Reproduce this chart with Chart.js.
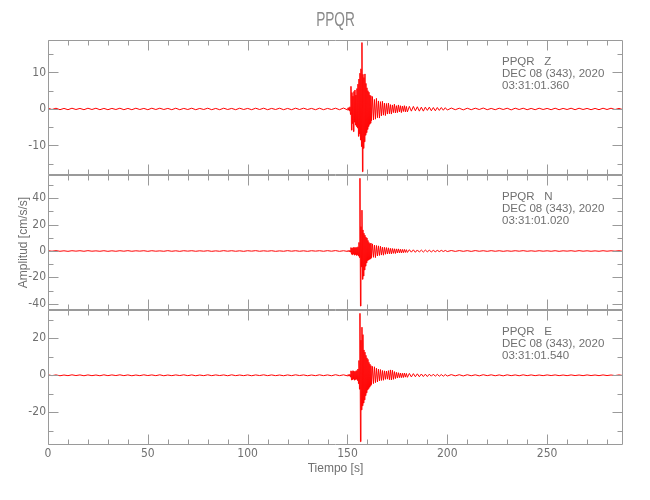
<!DOCTYPE html>
<html lang="es">
<head>
    <meta charset="UTF-8">
    <title>PPQR</title>
    <script src="https://cdn.jsdelivr.net/npm/chart.js"></script>
    <style>
        body {
            margin: 0;
            background-color: white;
        }
        canvas {
            display: block;
        }
    </style>
</head>
<body>
    <canvas id="seisChart" width="650" height="500"></canvas>

    <script>
        // sample times [s] (dense around the event, sparse in the quiet parts)
        var time = [
            0,2,4,6,8,10,12,14,16,18,20,22,24,26,28,30,32,34,36,38,
            40,42,44,46,48,50,52,54,56,58,60,62,64,66,68,70,72,74,76,78,
            80,82,84,86,88,90,92,94,96,98,100,102,104,106,108,110,112,114,116,118,
            120,122,124,126,128,130,132,134,136,138,140,142,144,146,148,150,
            150.25,150.5,150.75,151,151.25,151.5,151.75,152,152.25,152.5,152.75,153,
            153.25,153.5,153.75,154,154.25,154.5,154.75,155,155.25,155.5,155.75,156,
            156.25,156.5,156.75,157,157.25,157.5,157.75,158,158.25,158.5,158.75,159,
            159.25,159.5,159.75,160,160.25,160.5,160.75,161,161.25,161.5,161.75,162,
            162.5,163,163.5,164,164.5,165,165.5,166,166.5,167,167.5,168,
            168.5,169,169.5,170,170.5,171,171.5,172,172.5,173,173.5,174,
            174.5,175,175.5,176,176.5,177,177.5,178,178.5,179,179.5,180,
            181,182,183,184,185,186,187,188,189,190,191,192,193,194,195,196,197,198,199,200,
            202,204,206,208,210,212,214,216,218,220,222,224,226,228,230,232,234,236,238,240,242,244,
            246,248,250,252,254,256,258,260,262,264,266,268,270,272,274,276,278,280,282,284,286,288
        ];

        // Z component [cm/s/s]
        var ampZ = [
            0.2,-0.15,0.2,-0.2,0.15,-0.2,0.2,-0.15,0.15,-0.2,0.2,-0.15,0.2,-0.2,0.15,-0.2,0.15,-0.15,0.2,-0.2,
            0.15,-0.2,0.2,-0.15,0.15,-0.2,0.2,-0.15,0.2,-0.15,0.15,-0.2,0.2,-0.2,0.15,-0.15,0.2,-0.2,0.15,-0.15,
            0.2,-0.2,0.15,-0.2,0.2,-0.15,0.15,-0.2,0.2,-0.15,0.15,-0.2,0.2,-0.15,0.2,-0.2,0.15,-0.15,0.2,-0.2,
            0.15,-0.2,0.2,-0.15,0.2,-0.15,0.15,-0.2,0.2,-0.2,0.15,-0.15,0.2,-0.2,0.25,-0.25,
            0.3,-0.3,0.4,-0.5,0.6,-1.5,6.2,-5.8,4.5,-4.0,3.5,-6.2,
            4.8,-3.6,5.2,-4.4,3.8,-4.8,5.6,-5.2,6.8,-7.5,8.2,-6.8,
            9.8,-8.5,11.0,-10.3,18.2,-17.2,9.5,-10.8,8.6,-9.0,9.6,-7.2,
            7.0,-6.5,5.8,-5.6,5.0,-4.8,4.6,-4.2,3.8,-3.9,3.6,-3.2,
            3.4,-3.0,2.6,-2.8,2.9,-2.4,2.2,-2.5,2.0,-1.9,2.1,-1.7,
            1.6,-1.8,1.5,-1.4,1.6,-1.3,1.2,-1.4,1.1,-1.0,1.3,-1.1,
            0.9,-1.0,1.1,-0.8,0.9,-1.0,0.8,-0.7,0.9,-0.8,0.7,-0.8,
            0.7,-0.6,0.7,-0.5,0.6,-0.6,0.5,-0.6,0.5,-0.4,0.5,-0.5,0.4,-0.5,0.4,-0.4,0.4,-0.35,0.35,-0.3,
            0.25,-0.2,0.2,-0.25,0.2,-0.2,0.2,-0.15,0.25,-0.2,0.15,-0.2,0.2,-0.15,0.2,-0.25,0.2,-0.15,0.2,-0.2,0.15,-0.2,
            0.2,-0.15,0.15,-0.2,0.2,-0.2,0.15,-0.15,0.2,-0.2,0.2,-0.15,0.15,-0.2,0.15,-0.2,0.2,-0.15,0.2,-0.15,0.15,-0.2
        ];

        // N component [cm/s/s]
        var ampN = [
            0.2,-0.15,0.25,-0.2,0.15,-0.25,0.2,-0.1,0.2,-0.2,0.25,-0.15,0.1,-0.2,0.2,-0.25,0.15,-0.2,0.2,-0.15,
            0.25,-0.2,0.15,-0.1,0.2,-0.25,0.2,-0.15,0.1,-0.2,0.25,-0.2,0.15,-0.25,0.2,-0.1,0.2,-0.2,0.15,-0.15,
            0.2,-0.25,0.1,-0.2,0.25,-0.15,0.2,-0.2,0.15,-0.25,0.2,-0.1,0.25,-0.2,0.15,-0.15,0.2,-0.25,0.1,-0.2,
            0.25,-0.15,0.2,-0.2,0.15,-0.25,0.2,-0.1,0.2,-0.2,0.25,-0.15,0.3,-0.25,0.2,-0.3,
            0.3,-0.2,0.3,-0.4,0.5,-0.8,2.6,-2.4,2.2,-2.8,2.5,-2.2,
            2.9,-3.1,2.4,-2.6,2.8,-3.3,2.6,-2.9,3.2,-3.8,6.5,-5.0,
            55.2,-41.8,18.5,-12.0,31.0,-21.5,16.0,-19.0,13.5,-14.4,12.0,-11.5,
            10.5,-9.0,9.9,-7.2,8.0,-6.8,6.5,-6.2,5.6,-5.9,6.0,-5.1,
            5.4,-4.8,4.5,-5.0,4.2,-3.8,3.9,-3.4,3.6,-3.1,2.9,-3.2,
            2.8,-2.5,2.6,-2.3,2.4,-2.1,2.0,-2.2,1.9,-1.8,1.7,-1.9,
            1.6,-1.5,1.6,-1.4,1.3,-1.5,1.2,-1.3,1.2,-1.1,1.0,-1.1,
            1.0,-0.9,0.9,-1.0,0.8,-0.8,0.7,-0.8,0.7,-0.6,0.6,-0.7,0.5,-0.6,0.5,-0.5,0.5,-0.4,0.4,-0.4,
            0.35,-0.3,0.3,-0.25,0.25,-0.3,0.3,-0.2,0.2,-0.25,0.25,-0.2,0.2,-0.25,0.15,-0.2,0.2,-0.15,0.25,-0.2,0.15,-0.2,
            0.2,-0.15,0.15,-0.2,0.2,-0.25,0.15,-0.1,0.2,-0.2,0.25,-0.15,0.15,-0.2,0.1,-0.2,0.2,-0.15,0.15,-0.1,0.2,-0.15
        ];

        // E component [cm/s/s]
        var ampE = [
            0.25,-0.2,0.2,-0.25,0.15,-0.2,0.25,-0.15,0.2,-0.25,0.2,-0.2,0.15,-0.25,0.25,-0.2,0.2,-0.15,0.25,-0.2,
            0.2,-0.25,0.15,-0.2,0.25,-0.15,0.2,-0.2,0.25,-0.25,0.15,-0.2,0.2,-0.15,0.25,-0.2,0.2,-0.25,0.15,-0.2,
            0.25,-0.2,0.2,-0.15,0.2,-0.25,0.25,-0.2,0.15,-0.2,0.2,-0.25,0.2,-0.15,0.25,-0.2,0.2,-0.2,0.15,-0.25,
            0.2,-0.2,0.25,-0.15,0.2,-0.25,0.15,-0.2,0.25,-0.2,0.2,-0.25,0.3,-0.2,0.25,-0.3,
            0.3,-0.3,0.4,-0.3,0.5,-0.9,2.4,-2.5,2.1,-2.3,2.5,-2.0,
            2.3,-2.6,1.9,-2.2,2.4,-2.1,2.6,-2.8,3.4,-4.5,8.0,-7.5,
            33.5,-35.9,19.0,-18.7,26.0,-16.5,22.0,-15.0,13.7,-13.3,12.5,-11.0,
            10.8,-9.5,9.4,-7.9,8.6,-7.2,7.0,-6.4,6.0,-5.6,5.2,-5.0,
            4.8,-4.5,4.6,-4.0,3.8,-3.6,3.3,-3.0,3.1,-2.8,2.6,-2.7,
            2.4,-2.2,2.3,-2.1,2.5,-2.4,2.9,-2.5,2.7,-2.2,2.0,-1.8,
            1.6,-1.5,1.4,-1.3,1.2,-1.3,1.1,-1.2,1.2,-1.0,1.0,-1.1,
            1.0,-0.9,0.9,-0.8,0.8,-0.8,0.7,-0.7,0.6,-0.7,0.6,-0.5,0.6,-0.5,0.5,-0.5,0.4,-0.5,0.4,-0.4,
            0.35,-0.3,0.3,-0.35,0.3,-0.25,0.25,-0.3,0.3,-0.2,0.25,-0.25,0.2,-0.3,0.25,-0.2,0.2,-0.25,0.25,-0.2,0.2,-0.2,
            0.15,-0.2,0.2,-0.15,0.2,-0.2,0.15,-0.2,0.2,-0.15,0.15,-0.2,0.2,-0.15,0.15,-0.2,0.2,-0.15,0.15,-0.15,0.2,-0.15
        ];

        // tick values
        var xTicks = [0, 50, 100, 150, 200, 250];
        var xMinor = [10,20,30,40,60,70,80,90,110,120,130,140,160,170,180,190,210,220,230,240,260,270,280];
        var zTicks = [-10, 0, 10];
        var zMinor = [-15, -5, 5, 15];
        var nTicks = [-40, -20, 0, 20, 40];
        var nMinor = [-30, -10, 10, 30, 50];
        var eTicks = [-20, 0, 20];
        var eMinor = [-30, -10, 10, 30];

        // panel labels
        var stationTitle = 'PPQR';
        var panelNames = ['PPQR   Z', 'PPQR   N', 'PPQR   E'];
        var panelDate = 'DEC 08 (343), 2020';
        var panelStart = ['03:31:01.360', '03:31:01.020', '03:31:01.540'];

        var axisColor = '#9a9a9a';
        var textColor = '#707070';
        var narrowFont = "'Liberation Sans Narrow', 'DejaVu Sans Condensed', sans-serif";

        var panels = [
            { id: 'yZ', amp: ampZ, major: zTicks, minor: zMinor },
            { id: 'yN', amp: ampN, major: nTicks, minor: nMinor },
            { id: 'yE', amp: ampE, major: eTicks, minor: eMinor }
        ];

        function toPoints(amp) {
            return time.map(function(t, i) { return { x: t, y: amp[i] }; });
        }

        function yScale(ticks, min, max, title) {
            return {
                type: 'linear',
                position: 'left',
                stack: 'traces',
                stackWeight: 1,
                min: min,
                max: max,
                grid: { display: false, drawTicks: false },
                border: { display: false },
                ticks: {
                    color: textColor,
                    padding: 2,
                    font: { family: narrowFont, size: 12 }
                },
                title: title ? {
                    display: true,
                    text: title,
                    color: textColor,
                    padding: { top: 16, bottom: 0 },
                    font: { family: "'Liberation Sans', sans-serif", size: 12 }
                } : { display: false },
                afterBuildTicks: function(s) {
                    s.ticks = ticks.map(function(v) { return { value: v }; });
                },
                afterFit: function(s) { s.width = 48; }
            };
        }

        // frame, inward ticks and text labels
        var seisFrame = {
            id: 'seisFrame',
            afterDatasetsDraw: function(chart) {
                var ctx = chart.ctx;
                var xs = chart.scales.x;
                var left = Math.round(chart.chartArea.left) + 0.5;
                var right = Math.round(chart.chartArea.right) - 0.5;
                ctx.save();
                ctx.strokeStyle = axisColor;
                ctx.lineWidth = 1;
                panels.forEach(function(p) {
                    var ys = chart.scales[p.id];
                    var top = Math.round(ys.top) + 0.5;
                    var bottom = Math.round(ys.bottom) - 0.5;
                    ctx.beginPath();
                    ctx.rect(left, top, right - left, bottom - top);
                    // x ticks on top and bottom edges
                    xTicks.concat(xMinor).forEach(function(v) {
                        var len = xTicks.indexOf(v) >= 0 ? 10 : 5;
                        var x = Math.round(xs.getPixelForValue(v)) + 0.5;
                        ctx.moveTo(x, top); ctx.lineTo(x, top + len);
                        ctx.moveTo(x, bottom); ctx.lineTo(x, bottom - len);
                    });
                    // y ticks on left and right edges
                    p.major.concat(p.minor).forEach(function(v) {
                        var len = p.major.indexOf(v) >= 0 ? 10 : 5;
                        var y = Math.round(ys.getPixelForValue(v)) + 0.5;
                        ctx.moveTo(left, y); ctx.lineTo(left + len, y);
                        ctx.moveTo(right, y); ctx.lineTo(right - len, y);
                    });
                    ctx.stroke();
                });
                ctx.restore();
            },
            afterDraw: function(chart) {
                var ctx = chart.ctx;
                var area = chart.chartArea;
                ctx.save();
                ctx.fillStyle = textColor;
                ctx.textBaseline = 'middle';

                // station title, condensed
                ctx.save();
                ctx.translate((area.left + area.right) / 2, 20);
                ctx.scale(0.65, 1);
                ctx.font = "21px 'Liberation Sans', sans-serif";
                ctx.textAlign = 'center';
                ctx.fillStyle = '#8a8a8a';
                ctx.fillText(stationTitle, 0, 0);
                ctx.restore();

                ctx.font = "11.5px 'Liberation Sans', sans-serif";
                ctx.textAlign = 'left';
                panels.forEach(function(p, i) {
                    var top = chart.scales[p.id].top;
                    ctx.fillText(panelNames[i], 502, top + 22);
                    ctx.fillText(panelDate, 502, top + 34);
                    ctx.fillText(panelStart[i], 502, top + 46);
                });
                ctx.restore();
            }
        };

        var traceStyle = {
            borderColor: '#ff0000',
            borderWidth: 1,
            pointRadius: 0,
            fill: false,
            tension: 0
        };

        var ctx = document.getElementById('seisChart').getContext('2d');
        var seisChart = new Chart(ctx, {
            type: 'line',
            data: {
                datasets: [
                    Object.assign({ label: 'E', data: toPoints(ampE), yAxisID: 'yE' }, traceStyle),
                    Object.assign({ label: 'N', data: toPoints(ampN), yAxisID: 'yN' }, traceStyle),
                    Object.assign({ label: 'Z', data: toPoints(ampZ), yAxisID: 'yZ' }, traceStyle)
                ]
            },
            options: {
                responsive: false,
                animation: false,
                devicePixelRatio: 1,
                layout: { padding: { top: 40, right: 27, left: 0, bottom: 0 } },
                plugins: {
                    legend: { display: false },
                    tooltip: { enabled: false }
                },
                scales: {
                    x: {
                        type: 'linear',
                        position: 'bottom',
                        min: 0,
                        max: 288,
                        grid: { display: false, drawTicks: false },
                        border: { display: false },
                        ticks: {
                            color: textColor,
                            padding: 2,
                            maxRotation: 0,
                            font: { family: narrowFont, size: 12 }
                        },
                        title: {
                            display: true,
                            text: 'Tiempo [s]',
                            color: textColor,
                            padding: { top: 0, bottom: 24 },
                            font: { family: "'Liberation Sans', sans-serif", size: 12 }
                        },
                        afterBuildTicks: function(s) {
                            s.ticks = xTicks.map(function(v) { return { value: v }; });
                        },
                        afterFit: function(s) { s.height = 55; }
                    },
                    yE: yScale(eTicks, -37.7, 35.3),
                    yN: yScale(nTicks, -44.8, 57.7, 'Amplitud [cm/s/s]'),
                    yZ: yScale(zTicks, -18.1, 18.9)
                }
            },
            plugins: [seisFrame]
        });
    </script>
</body>
</html>
